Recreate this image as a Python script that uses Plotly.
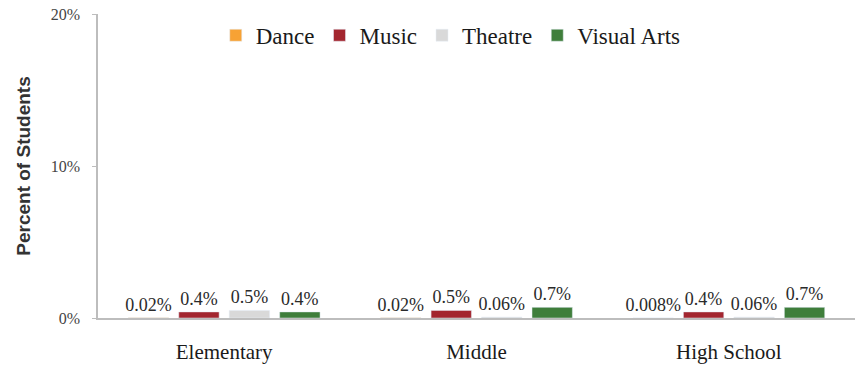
import plotly.graph_objects as go

levels = ["Elementary", "Middle", "High School"]
series_names = ["Dance", "Music", "Theatre", "Visual Arts"]
dance = [0.02, 0.02, 0.008]
music = [0.4, 0.5, 0.4]
theatre = [0.5, 0.06, 0.06]
visual_arts = [0.4, 0.7, 0.7]
colors = ["#F7A234", "#A3262F", "#D9D9D9", "#3F7E3B"]
y_ticks = [0, 10, 20]
y_tick_labels = ["0%", "10%", "20%"]

serif = "Times New Roman, Times, serif"

fig = go.Figure()
for name, vals, col in zip(series_names, [dance, music, theatre, visual_arts], colors):
    fig.add_trace(go.Bar(
        x=levels, y=vals, name=name, marker_color=col,
        text=[f"{v:g}%" for v in vals], textposition="outside",
        constraintext="none",
        textfont=dict(family=serif, size=18, color="#2a2a2a"),
        cliponaxis=False,
    ))

fig.update_layout(
    width=859, height=368,
    margin=dict(l=98, r=4, t=14, b=48),
    paper_bgcolor="white", plot_bgcolor="white",
    barmode="group", bargap=0.2, bargroupgap=0.2,
    font=dict(family=serif, color="#222222"),
    legend=dict(orientation="h", x=0.466, xanchor="center", y=0.93, yanchor="middle",
                font=dict(family=serif, size=23, color="#1a1a1a"),
                itemwidth=30, traceorder="normal", bgcolor="rgba(0,0,0,0)"),
)
fig.update_xaxes(showline=True, linecolor="#BDBDBD", linewidth=1.5,
                 tickfont=dict(family=serif, size=21, color="#1a1a1a"),
                 ticks="", showgrid=False, ticklabelstandoff=14)
fig.update_yaxes(range=[0, 20], tickvals=y_ticks, ticktext=y_tick_labels,
                 showline=True, linecolor="#BDBDBD", linewidth=1.5,
                 ticks="outside", ticklen=4, tickcolor="#BDBDBD",
                 showgrid=False, zeroline=False, ticklabelstandoff=9,
                 tickfont=dict(family=serif, size=16, color="#444444"),
                 title=dict(text="<b>Percent of Students</b>", standoff=15,
                            font=dict(family="Liberation Sans, Arial, sans-serif", size=19, color="#333333")))

fig.write_html("out.html")
